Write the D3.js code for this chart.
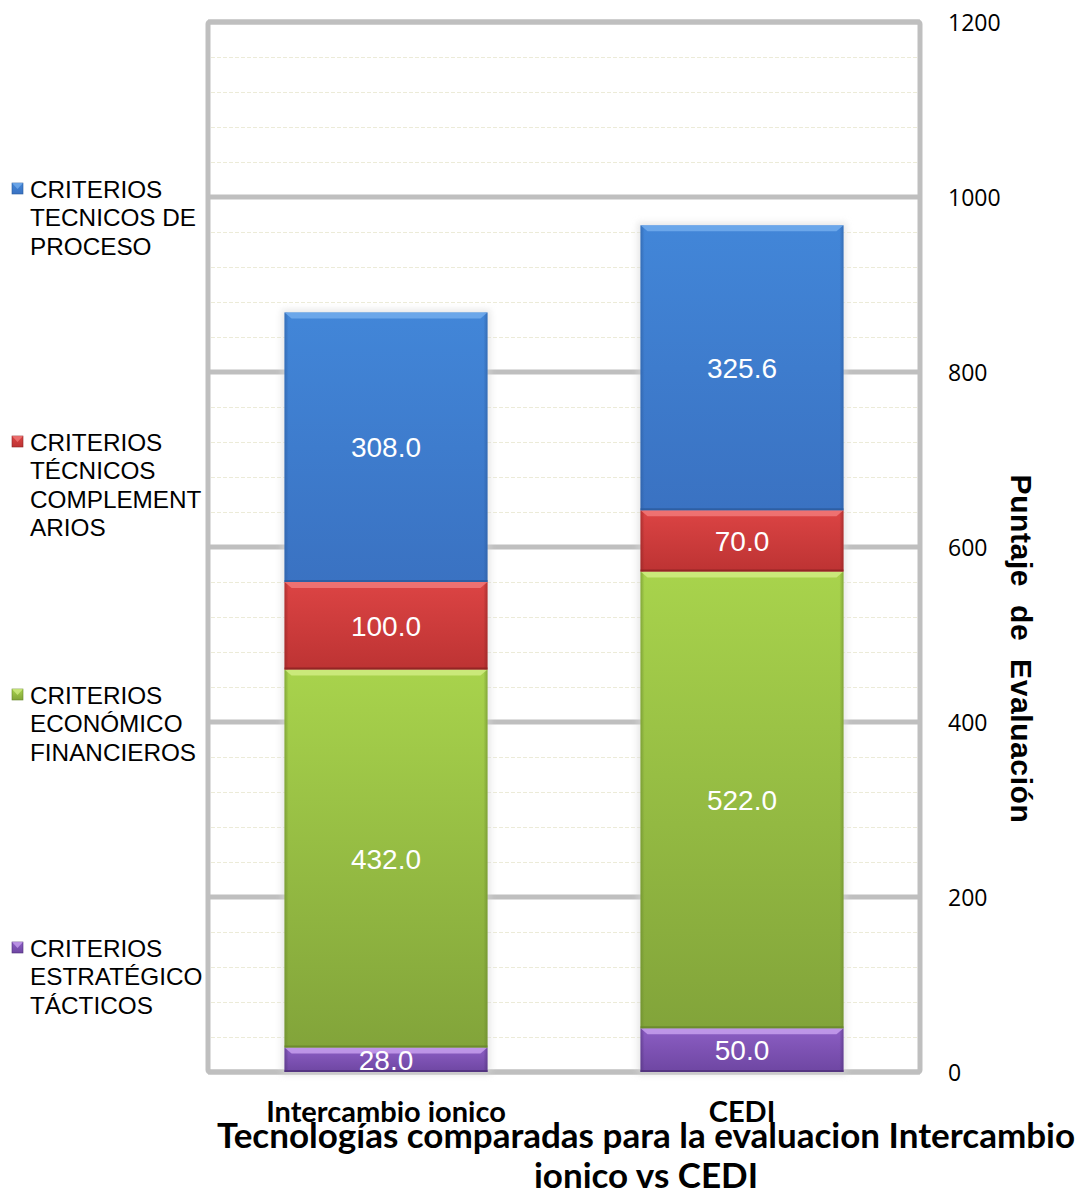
<!DOCTYPE html>
<html>
<head>
<meta charset="utf-8">
<script src="https://cdnjs.cloudflare.com/ajax/libs/d3/7.8.5/d3.min.js"></script>
<style>
  html, body { margin: 0; padding: 0; background: #fff; }
  svg { display: block; }
</style>
</head>
<body>
<svg id="chart" width="1079" height="1196"></svg>
<script>
// Technologies compared
const categories = ["Intercambio ionico", "CEDI"];

// Series, stacked bottom to top
const seriesKeys = ["estrategico", "economico", "complementarios", "proceso"];
const estrategicoValues = [28.0, 50.0];
const economicoValues = [432.0, 522.0];
const complementariosValues = [100.0, 70.0];
const procesoValues = [308.0, 325.6];

// Legend entries, listed top to bottom
const legendKeys = ["proceso", "complementarios", "economico", "estrategico"];
const legendLabels = [
  ["CRITERIOS", "TECNICOS DE", "PROCESO"],
  ["CRITERIOS", "TÉCNICOS", "COMPLEMENT", "ARIOS"],
  ["CRITERIOS", "ECONÓMICO", "FINANCIEROS"],
  ["CRITERIOS", "ESTRATÉGICO", "TÁCTICOS"]
];

const yTicks = [0, 200, 400, 600, 800, 1000, 1200];
const yMinorTicks = d3.range(0, 1201, 40);

const axisTitle = "Puntaje  de  Evaluación";
const titleLines = ["Tecnologías comparadas para la evaluacion Intercambio", "ionico vs CEDI"];

// Palette: [top, bottom, highlight, edge]
const palette = {
  proceso:         ["#4286d8", "#3a72c2", "#7ab2f0", "#2a5a9c"],
  complementarios: ["#dc4444", "#bd3333", "#f48080", "#8a2222"],
  economico:       ["#a8d34c", "#82a43a", "#d6f08a", "#66862a"],
  estrategico:     ["#8c5ec4", "#6e46a2", "#cfa8f4", "#4e3078"]
};

const table = categories.map((c, i) => ({
  category: c,
  estrategico: estrategicoValues[i],
  economico: economicoValues[i],
  complementarios: complementariosValues[i],
  proceso: procesoValues[i]
}));

const svg = d3.select("#chart");

const plot = { left: 208, right: 920, top: 22, bottom: 1072 };

const y = d3.scaleLinear().domain([0, 1200]).range([plot.bottom, plot.top]);
const x = d3.scaleBand().domain(categories).range([plot.left, plot.right])
  .paddingInner(0.43).paddingOuter(0.215);

// Gradients
const defs = svg.append("defs");
seriesKeys.forEach(k => {
  const g = defs.append("linearGradient").attr("id", "grad-" + k)
    .attr("x1", 0).attr("y1", 0).attr("x2", 0).attr("y2", 1);
  g.append("stop").attr("offset", "0%").attr("stop-color", palette[k][0]);
  g.append("stop").attr("offset", "100%").attr("stop-color", palette[k][1]);
  const h = defs.append("linearGradient").attr("id", "side-" + k)
    .attr("x1", 0).attr("y1", 0).attr("x2", 1).attr("y2", 0);
  h.append("stop").attr("offset", "0%").attr("stop-color", palette[k][3]).attr("stop-opacity", 0.55);
  h.append("stop").attr("offset", "2%").attr("stop-color", palette[k][3]).attr("stop-opacity", 0);
  h.append("stop").attr("offset", "98%").attr("stop-color", palette[k][3]).attr("stop-opacity", 0);
  h.append("stop").attr("offset", "100%").attr("stop-color", palette[k][3]).attr("stop-opacity", 0.55);
});
const blur = defs.append("filter").attr("id", "shadow").attr("x", "-10%").attr("y", "-10%")
  .attr("width", "120%").attr("height", "120%");
blur.append("feGaussianBlur").attr("stdDeviation", 3);

// Minor gridlines
svg.append("g").selectAll("line")
  .data(yMinorTicks.filter(v => v % 200 !== 0))
  .join("line")
  .attr("x1", plot.left + 3).attr("x2", plot.right - 3)
  .attr("y1", d => Math.round(y(d)) + 0.5).attr("y2", d => Math.round(y(d)) + 0.5)
  .attr("stroke", "#ecebd8").attr("stroke-width", 1)
  .attr("stroke-dasharray", "4,2");

// Major gridlines
svg.append("g").selectAll("line")
  .data(yTicks)
  .join("line")
  .attr("x1", plot.left).attr("x2", plot.right)
  .attr("y1", d => y(d)).attr("y2", d => y(d))
  .attr("stroke", "#bfbfbf").attr("stroke-width", 5);

// Plot frame
svg.append("rect")
  .attr("x", plot.left).attr("y", plot.top)
  .attr("width", plot.right - plot.left).attr("height", plot.bottom - plot.top)
  .attr("rx", 2)
  .attr("fill", "none").attr("stroke", "#bfbfbf").attr("stroke-width", 5);

// Stacked bars
const stacked = d3.stack().keys(seriesKeys)(table);

// soft glow behind each column
svg.append("g").selectAll("rect")
  .data(table)
  .join("rect")
  .attr("x", d => x(d.category) - 3)
  .attr("y", d => y(d3.sum(seriesKeys, k => d[k])) - 3)
  .attr("width", x.bandwidth() + 6)
  .attr("height", d => y(0) - y(d3.sum(seriesKeys, k => d[k])) + 6)
  .attr("fill", "#d8d8d8").attr("opacity", 0.6)
  .attr("filter", "url(#shadow)");

const layers = svg.append("g").selectAll("g")
  .data(stacked)
  .join("g");

layers.each(function(layer) {
  const k = layer.key;
  const g = d3.select(this);
  const segs = g.selectAll("g.seg").data(layer).join("g").attr("class", "seg");
  segs.append("rect")
    .attr("x", d => x(d.data.category))
    .attr("y", d => y(d[1]))
    .attr("width", x.bandwidth())
    .attr("height", d => y(d[0]) - y(d[1]))
    .attr("fill", "url(#grad-" + k + ")");
  // side shading
  segs.append("rect")
    .attr("x", d => x(d.data.category))
    .attr("y", d => y(d[1]))
    .attr("width", x.bandwidth())
    .attr("height", d => y(d[0]) - y(d[1]))
    .attr("fill", "url(#side-" + k + ")");
  // top bevel highlight
  segs.append("path")
    .attr("d", d => {
      const x0 = x(d.data.category), x1 = x0 + x.bandwidth(), t = y(d[1]);
      return `M${x0},${t}L${x1},${t}L${x1 - 7},${t + 6}L${x0 + 7},${t + 6}Z`;
    })
    .attr("fill", palette[k][2]).attr("opacity", 0.75);
  // bottom edge
  segs.append("rect")
    .attr("x", d => x(d.data.category))
    .attr("y", d => y(d[0]) - 2)
    .attr("width", x.bandwidth())
    .attr("height", 2)
    .attr("fill", palette[k][3]).attr("opacity", 0.8);
  // value label
  segs.append("text")
    .attr("x", d => x(d.data.category) + x.bandwidth() / 2)
    .attr("y", d => (y(d[0]) + y(d[1])) / 2)
    .attr("dy", "0.36em")
    .attr("text-anchor", "middle")
    .attr("font-family", "'Liberation Sans', Arial, sans-serif")
    .attr("font-size", 28)
    .attr("fill", "#ffffff")
    .text(d => (d[1] - d[0]).toFixed(1));
});

// Right value axis
const yAxis = d3.axisRight(y).tickValues(yTicks).tickSize(0).tickPadding(0)
  .tickFormat(d3.format("d"));
const axisG = svg.append("g").attr("transform", `translate(948,0)`).call(yAxis);
axisG.select(".domain").remove();
axisG.selectAll("text")
  .attr("font-family", "'Open Sans', sans-serif")
  .attr("font-size", 23)
  .attr("fill", "#000")
  .attr("dy", "0.35em");

// Axis title (rotated, reading downward)
svg.append("text")
  .attr("transform", `translate(1011,649) rotate(90)`)
  .attr("text-anchor", "middle")
  .attr("font-family", "'Liberation Sans', Arial, sans-serif")
  .attr("font-weight", "bold")
  .attr("font-size", 30)
  .attr("letter-spacing", 0.6)
  .attr("fill", "#000")
  .style("white-space", "pre")
  .attr("xml:space", "preserve")
  .text(axisTitle);

// Category labels
svg.append("g").selectAll("text")
  .data(categories)
  .join("text")
  .attr("x", d => x(d) + x.bandwidth() / 2)
  .attr("y", 1122)
  .attr("text-anchor", "middle")
  .attr("font-family", "Lato, 'Open Sans', sans-serif")
  .attr("font-weight", "bold")
  .attr("font-size", 29)
  .attr("fill", "#000")
  .text(d => d);

// Chart title
svg.append("g").selectAll("text")
  .data(titleLines)
  .join("text")
  .attr("x", 646)
  .attr("y", (d, i) => 1148 + i * 40)
  .attr("text-anchor", "middle")
  .attr("font-family", "Lato, 'Open Sans', sans-serif")
  .attr("font-weight", "bold")
  .attr("font-size", 35)
  .attr("fill", "#000")
  .text(d => d);

// Legend
const legendTops = [189, 442, 695, 948];
const legend = svg.append("g");
legendKeys.forEach((k, i) => {
  const top = legendTops[i];
  const item = legend.append("g");
  item.append("rect")
    .attr("x", 12).attr("y", top - 6).attr("width", 11).attr("height", 11)
    .attr("fill", "url(#grad-" + k + ")")
    .attr("stroke", palette[k][3]).attr("stroke-width", 0.6);
  item.append("path")
    .attr("d", `M12,${top - 6}L23,${top - 6}L17.5,${top}Z`)
    .attr("fill", palette[k][2]).attr("opacity", 0.7);
  item.selectAll("text")
    .data(legendLabels[i])
    .join("text")
    .attr("x", 30)
    .attr("y", (d, j) => top + j * 28.5)
    .attr("dy", "0.35em")
    .attr("font-family", "'Liberation Sans', Arial, sans-serif")
    .attr("font-size", 24.3)
    .attr("fill", "#000")
    .text(d => d);
});
</script>
</body>
</html>
